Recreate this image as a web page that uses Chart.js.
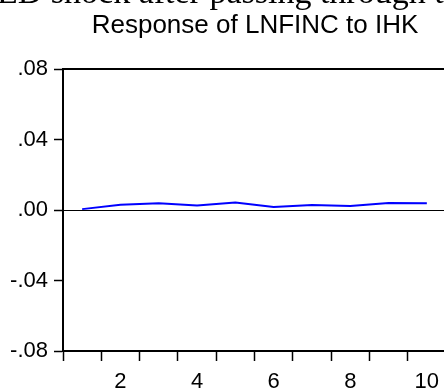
<!DOCTYPE html>
<html><head><meta charset="utf-8">
<script src="https://cdn.jsdelivr.net/npm/chart.js@4/dist/chart.umd.min.js"></script>
<style>
html,body{margin:0;padding:0;background:#fff;overflow:hidden;width:444px;height:392px;}
#wrap{position:relative;width:444px;height:392px;overflow:hidden;background:#fff;}
#cap{position:absolute;left:-3px;top:-25px;font-family:"Liberation Serif","Times New Roman",serif;font-size:34px;line-height:34px;white-space:nowrap;color:#000;}
canvas{position:absolute;left:0;top:0;}
</style></head>
<body>
<div id="wrap">
<canvas id="c" width="510" height="392"></canvas>
<div id="cap">ED shock after passing through the</div>
</div>
<script>
const titleText = 'Response of LNFINC to IHK';
const categories = ['1','2','3','4','5','6','7','8','9','10'];
const responseValues = [0.0005, 0.0030, 0.0038, 0.0026, 0.0043, 0.0017, 0.0028, 0.0023, 0.0040, 0.0038];
const yTickValues = [-0.08, -0.04, 0, 0.04, 0.08];
const yTickLabels = ['-.08', '-.04', '.00', '.04', '.08'];
const xShownLabels = ['2','4','6','8','10'];

const framePlugin = {
  id: 'frame',
  beforeDatasetsDraw(chart) {
    const {ctx, chartArea} = chart;
    const y0 = Math.round(chart.scales.y.getPixelForValue(0)) + 0.5;
    ctx.save();
    ctx.strokeStyle = '#000';
    ctx.lineWidth = 1;
    ctx.beginPath();
    ctx.moveTo(chartArea.left, y0);
    ctx.lineTo(chartArea.right, y0);
    ctx.stroke();
    ctx.restore();
  },
  afterDraw(chart) {
    const {ctx, chartArea} = chart;
    ctx.save();
    ctx.strokeStyle = '#000';
    ctx.lineWidth = 2;
    ctx.beginPath();
    ctx.moveTo(chartArea.left - 1, chartArea.top);
    ctx.lineTo(chartArea.right, chartArea.top);
    ctx.lineTo(chartArea.right, chartArea.bottom);
    ctx.stroke();
    ctx.restore();
  }
};

new Chart(document.getElementById('c'), {
  type: 'line',
  data: {
    labels: categories,
    datasets: [{
      data: responseValues,
      borderColor: '#0000ff',
      borderWidth: 2,
      pointRadius: 0,
      tension: 0,
      fill: false,
      yAxisID: 'y'
    }]
  },
  options: {
    responsive: false,
    animation: false,
    devicePixelRatio: 1,
    layout: { padding: 0 },
    plugins: {
      legend: { display: false },
      tooltip: { enabled: false },
      title: {
        display: true,
        text: titleText,
        color: '#000',
        font: { family: 'Liberation Sans', size: 26, weight: 'normal' },
        padding: { top: 10, bottom: 27.8 }
      }
    },
    scales: {
      x: {
        type: 'category',
        offset: true,
        grid: { offset: true, drawOnChartArea: false, drawTicks: true, tickLength: 10, tickWidth: 1.5, tickColor: '#000' },
        border: { display: true, color: '#000', width: 2 },
        ticks: {
          autoSkip: false, maxRotation: 0, color: '#000', padding: 8,
          font: { family: 'Liberation Sans', size: 22 },
          callback: function(v) { const l = this.getLabelForValue(v); return xShownLabels.includes(l) ? l : ''; }
        },
        afterFit: s => { s.height = 41; }
      },
      y: {
        position: 'left',
        min: -0.08, max: 0.08,
        afterBuildTicks: s => { s.ticks = yTickValues.map(v => ({ value: v })); },
        grid: { drawOnChartArea: false, drawTicks: true, tickLength: 9, tickWidth: 1.5, tickColor: '#000' },
        border: { display: true, color: '#000', width: 2 },
        ticks: {
          color: '#000', padding: 6,
          font: { family: 'Liberation Sans', size: 22 },
          callback: v => { const i = yTickValues.findIndex(t => Math.abs(t - v) < 1e-9); return i >= 0 ? yTickLabels[i] : ''; }
        },
        afterFit: s => { s.width = 63; }
      },
      yR: {
        position: 'right',
        display: true,
        min: 0, max: 1,
        grid: { display: false },
        border: { display: false },
        ticks: { display: false },
        afterFit: s => { s.width = 64; }
      }
    }
  },
  plugins: [framePlugin]
});
</script>
</body></html>
